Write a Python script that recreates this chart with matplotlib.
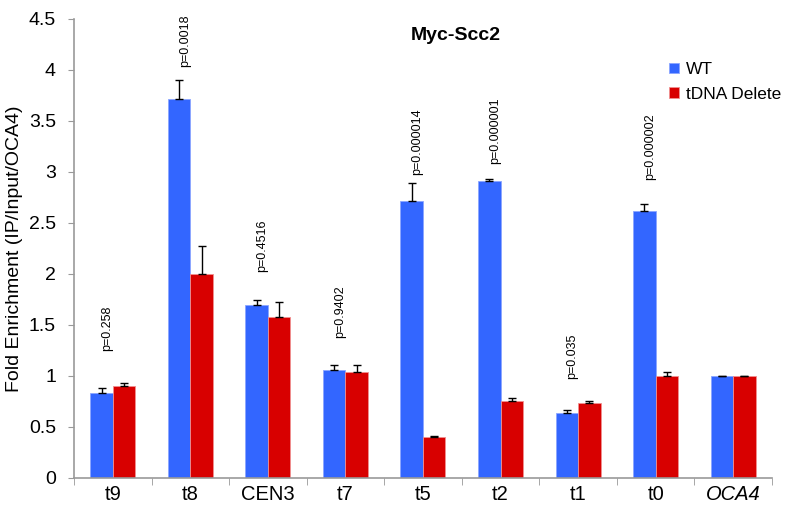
import matplotlib.pyplot as plt
import numpy as np

plt.rcParams['font.family'] = ['Liberation Sans', 'DejaVu Sans']

# Myc-Scc2 ChIP enrichment, WT vs tDNA deletion
sites = ['t9', 't8', 'CEN3', 't7', 't5', 't2', 't1', 't0', 'OCA4']
wt_mean = [0.83, 3.72, 1.70, 1.06, 2.72, 2.91, 0.64, 2.62, 1.00]
wt_err = [0.05, 0.18, 0.04, 0.05, 0.17, 0.02, 0.03, 0.07, 0.0]
del_mean = [0.90, 2.00, 1.58, 1.04, 0.40, 0.75, 0.735, 1.00, 1.00]
del_err = [0.03, 0.27, 0.15, 0.07, 0.01, 0.03, 0.02, 0.04, 0.0]
p_values = ['p=0.258', 'p=0.0018', 'p=0.4516', 'p=0.9402', 'p=0.000014',
            'p=0.000001', 'p=0.035', 'p=0.000002', None]
p_label_y = [1.24, 4.03, 2.02, 1.37, 2.97, 3.08, 0.97, 2.92, None]

blue = '#3366FF'
red = '#D80000'

fig = plt.figure(figsize=(7.92, 5.05), dpi=100)
ax = fig.add_axes([0.0934, 0.0535, 0.8813, 0.909])

x = np.arange(len(sites))
width = 0.29

ax.bar(x - width / 2, wt_mean, width, color=blue, edgecolor='#8CA6FF',
       linewidth=0.6, label='WT', zorder=2)
ax.bar(x + width / 2, del_mean, width, color=red, edgecolor='#F09090',
       linewidth=0.6, label='tDNA Delete', zorder=2)

# upper error bars only
ax.errorbar(x - width / 2, wt_mean, yerr=[np.zeros(len(x)), wt_err], fmt='none',
            ecolor='black', elinewidth=1, capsize=3, capthick=1, zorder=3)
ax.errorbar(x + width / 2, del_mean, yerr=[np.zeros(len(x)), del_err], fmt='none',
            ecolor='black', elinewidth=1, capsize=3, capthick=1, zorder=3)

for xi, txt, ty in zip(x, p_values, p_label_y):
    if txt is None:
        continue
    ax.text(xi - 0.07, ty, txt, rotation=90, ha='center', va='bottom', fontsize=9)

ax.set_xlim(-0.5, len(sites) - 0.5)
ax.set_ylim(0, 4.5)
ax.set_yticks(np.arange(0, 4.51, 0.5))
ax.set_yticklabels(['0', '0.5', '1', '1.5', '2', '2.5', '3', '3.5', '4', '4.5'], fontsize=14)
ax.set_xticks(x)
ax.set_xticklabels(sites, fontsize=14.5)
ax.get_xticklabels()[-1].set_style('italic')
ax.set_xticks(np.arange(-0.5, len(sites)), minor=True)
ax.tick_params(axis='x', which='major', length=0, pad=5)
ax.tick_params(axis='x', which='minor', length=5, color='#999999', direction='out')
ax.tick_params(axis='y', length=4, color='#999999', direction='out', pad=9)

for side in ['top', 'right']:
    ax.spines[side].set_visible(False)
for side in ['left', 'bottom']:
    ax.spines[side].set_color('#999999')
    ax.spines[side].set_linewidth(1.2)

ax.set_ylabel('Fold Enrichment (IP/Input/OCA4)', fontsize=14, labelpad=4)
ax.set_title('Myc-Scc2', fontsize=14, fontweight='bold', x=0.547, y=0.935)

ax.legend(loc='upper right', bbox_to_anchor=(1.035, 0.94), frameon=False, fontsize=12.5,
          handlelength=0.55, handleheight=0.55, handletextpad=0.4, labelspacing=0.55)

fig.savefig('out.png', dpi=100)
